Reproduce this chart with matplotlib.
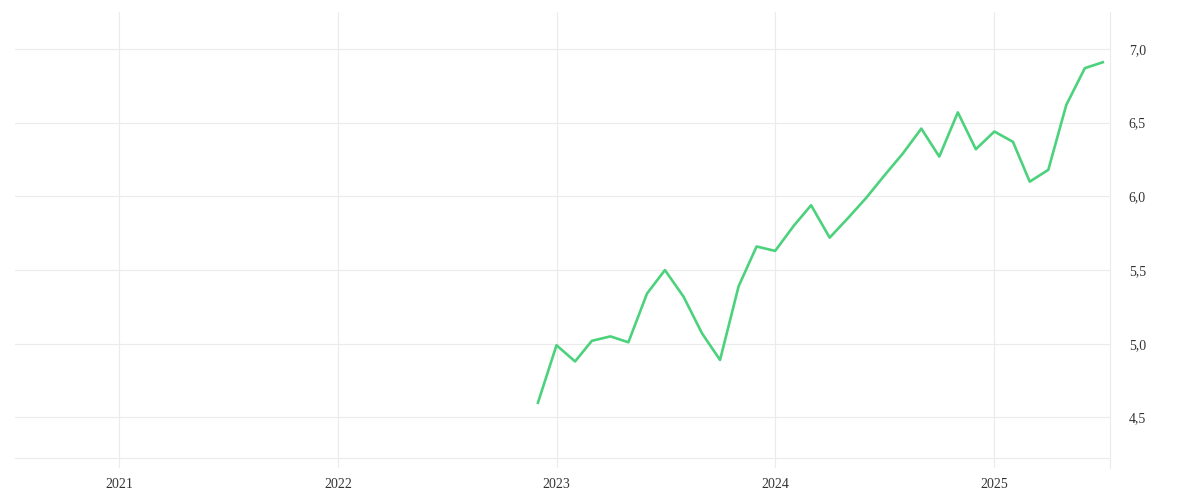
import matplotlib
matplotlib.use("Agg")
import matplotlib.pyplot as plt
import pandas as pd

# monthly values, Dec 2022 - Jul 2025
months = pd.date_range("2022-12-01", "2025-07-01", freq="MS")
values = [4.60, 4.99, 4.88, 5.02, 5.05, 5.01, 5.34, 5.50, 5.32, 5.07, 4.89, 5.39,
          5.66, 5.63, 5.80, 5.94, 5.72, 5.85, 5.99, 6.14, 6.29, 6.46, 6.27, 6.57,
          6.32, 6.44, 6.37, 6.10, 6.18, 6.62, 6.87, 6.91]
year_ticks = ["2021", "2022", "2023", "2024", "2025"]
y_ticks = [4.5, 5.0, 5.5, 6.0, 6.5, 7.0]

grid_col = "#ebebeb"
line_col = "#4cd27c"
text_col = "#333333"

plt.rcParams["font.family"] = ["Liberation Serif", "DejaVu Serif"]

fig = plt.figure(figsize=(12, 5), dpi=100)
ax = fig.add_axes([15 / 1200, 32 / 500, (1110 - 15) / 1200, (468 - 12) / 500])

ax.plot(months, values, color=line_col, lw=1.9, zorder=3)

ax.set_xlim(pd.Timestamp("2020-07-11"), pd.Timestamp("2025-07-13"))
ax.set_ylim(4.157, 7.251)

ax.set_xticks([pd.Timestamp(y + "-01-01") for y in year_ticks])
ax.set_xticklabels(year_ticks)
ax.set_yticks(y_ticks)
ax.set_yticklabels([f"{v:.1f}".replace(".", ",") for v in y_ticks])

ax.yaxis.tick_right()
ax.grid(True, color=grid_col, lw=0.8)
ax.axhline(4.225, color=grid_col, lw=0.8, zorder=1)
for s in ["top", "left", "bottom"]:
    ax.spines[s].set_visible(False)
ax.spines["right"].set_color(grid_col)
ax.spines["right"].set_linewidth(0.8)

ax.tick_params(axis="both", length=0, colors=text_col, labelsize=10)
ax.tick_params(axis="x", pad=7.5)
ax.tick_params(axis="y", pad=13.5)

fig.savefig("out.png", dpi=100, facecolor="white")
